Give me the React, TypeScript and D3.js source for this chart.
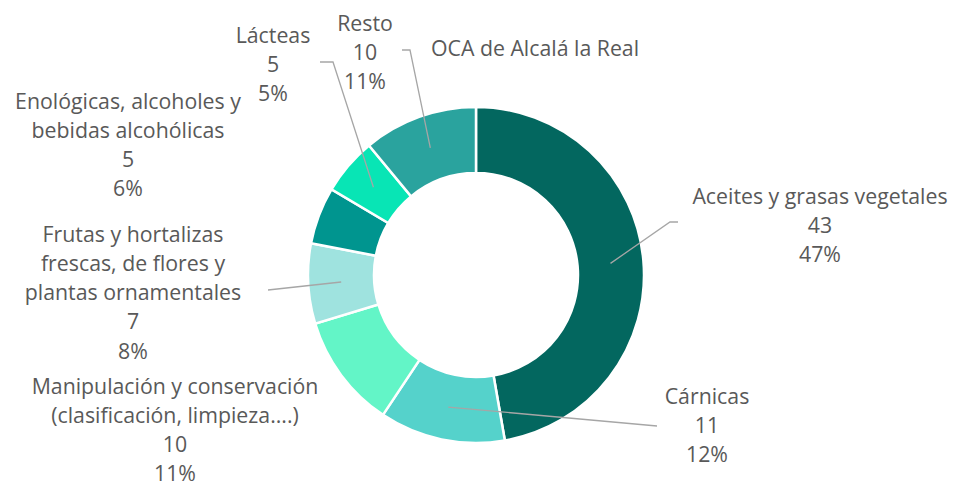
import * as d3 from "d3";
import { useEffect, useRef } from "react";

// data
const categories = [
  "Aceites y grasas vegetales",
  "Cárnicas",
  "Manipulación y conservación (clasificación, limpieza....)",
  "Frutas y hortalizas frescas, de flores y plantas ornamentales",
  "Enológicas, alcoholes y bebidas alcohólicas",
  "Lácteas",
  "Resto",
];
const values = [43, 11, 10, 7, 5, 5, 10];
const percentLabels = ["47%", "12%", "11%", "8%", "6%", "5%", "11%"];
const colors = ["#03675f", "#55d2cb", "#63f5c7", "#9fe3df", "#00958f", "#08e5b5", "#2aa39e"];

// label layout (how the names wrap, where each block sits, leader elbows)
const labelLines = [
  ["Aceites y grasas vegetales"],
  ["Cárnicas"],
  ["Manipulación y conservación", "(clasificación, limpieza....)"],
  ["Frutas y hortalizas", "frescas, de flores y", "plantas ornamentales"],
  ["Enológicas, alcoholes y", "bebidas alcohólicas"],
  ["Lácteas"],
  ["Resto"],
];
const labelPos = [
  [820, 195], [707, 395], [175, 385], [133, 233], [128, 100], [273, 34], [365, 22],
];
const leaders: (number[][] | null)[] = [
  [[670, 222], [678, 222]],
  [[657, 426]],
  null,
  [[268, 290]],
  null,
  [[333, 62], [320, 62]],
  [[410, 50], [402, 50]],
];

const title = "OCA de Alcalá la Real";

export default function App() {
  const ref = useRef<SVGSVGElement>(null);

  useEffect(() => {
    document.body.style.margin = "0";
    const W = 960, H = 487;
    const cx = 476, cy = 275;
    const outer = 168, inner = 102;
    const step = 29.3;

    const svg = d3.select(ref.current);
    svg.selectAll("*").remove();
    svg.attr("width", W).attr("height", H);

    const data = categories.map((c, i) => ({ name: c, value: values[i], i }));
    const pie = d3.pie<any>().sort(null).value(d => d.value);
    const arcs = pie(data);
    const arc = d3.arc<any>().innerRadius(inner).outerRadius(outer);

    const g = svg.append("g").attr("transform", `translate(${cx},${cy})`);
    g.selectAll("path")
      .data(arcs)
      .join("path")
      .attr("d", arc)
      .attr("fill", d => colors[d.data.i])
      .attr("stroke", "#fff")
      .attr("stroke-width", 2.5);

    // leader lines
    arcs.forEach(a => {
      const pts = leaders[a.data.i];
      if (!pts) return;
      const [x0, y0] = arc.centroid(a);
      const all = [[x0 + cx, y0 + cy], ...pts];
      svg.append("path")
        .attr("d", d3.line()(all as [number, number][]))
        .attr("fill", "none")
        .attr("stroke", "#a6a6a6")
        .attr("stroke-width", 1.3);
    });

    const font = "'Open Sans', sans-serif";
    const fs = 21.3;

    // labels
    categories.forEach((c, i) => {
      const lines = [...labelLines[i], String(values[i]), percentLabels[i]];
      const t = svg.append("text")
        .attr("font-family", font)
        .attr("font-size", fs)
        .attr("fill", "#595959")
        .attr("text-anchor", "middle");
      lines.forEach((l, k) => {
        t.append("tspan")
          .attr("x", labelPos[i][0])
          .attr("y", labelPos[i][1] + k * step)
          .attr("dominant-baseline", "central")
          .text(l);
      });
    });

    svg.append("text")
      .attr("x", 535)
      .attr("y", 47)
      .attr("dominant-baseline", "central")
      .attr("text-anchor", "middle")
      .attr("font-family", font)
      .attr("font-size", fs)
      .attr("fill", "#595959")
      .text(title);
  }, []);

  return <svg ref={ref} style={{ display: "block" }} />;
}
